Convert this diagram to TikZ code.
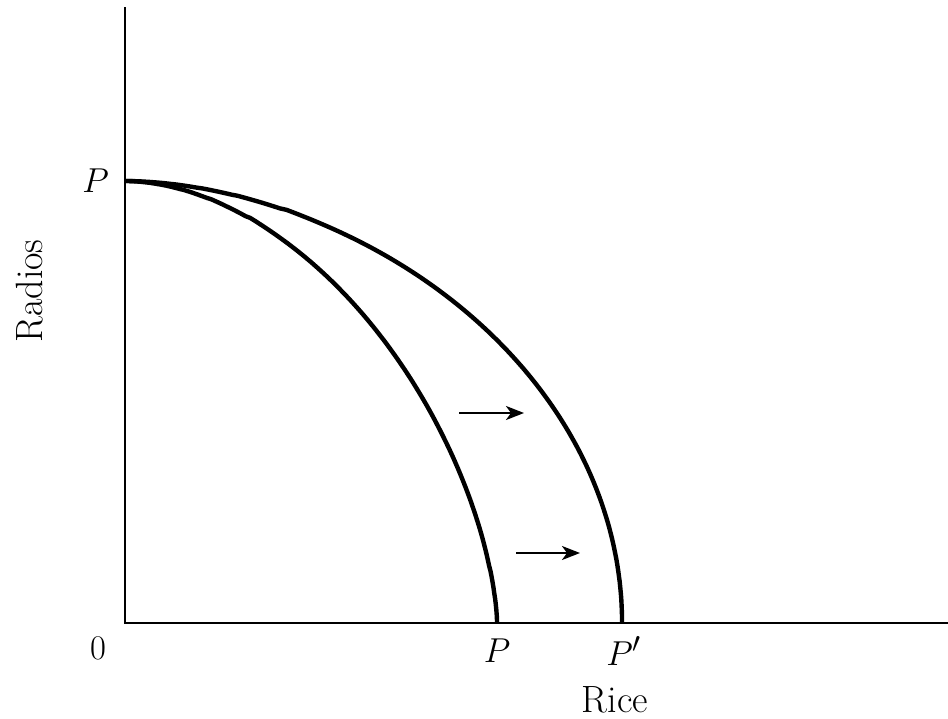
\documentclass[tikz,border=0pt]{standalone}
\usetikzlibrary{arrows.meta}
\begin{document}
\begin{tikzpicture}[x=0.5pt,y=-0.5pt,
    lbl/.style={font=\fontsize{19}{22}\selectfont},
    curva/.style={line width=2.2pt,line join=round},
    flecha/.style={line width=1.2pt,-{Stealth[length=9pt,width=7pt,inset=2.5pt]}}]
    \useasboundingbox (0,0) rectangle (948,718);

    % Ejes
    \coordinate (O) at (125,623);
    \coordinate (ytop) at (125,7);
    \coordinate (xend) at (948,623);
    \draw[line width=1.2pt] (ytop) -- (O) -- (xend);
    \node[lbl] (cero) at (98,648) {$0$};
    \node[lbl] (Rice) at (615,700) {Rice};
    \node[lbl,rotate=90] (Radios) at (30,291) {Radios};

    % Fronteras de posibilidades
    \coordinate (Py) at (125,181);
    \coordinate (Px) at (497,623);
    \coordinate (Pxp) at (622,623);
    \node[lbl,anchor=east] (lPy) at (116,181) {$P$};
    \node[lbl] (lPx) at (497,651) {$P$};
    \node[lbl] (lPxp) at (624,651) {$P'$};

    \draw[curva] (Py) -- plot[domain=0.01:0.999,samples=150]
      ({125+372*(1-(1-\x*\x)^1.6)^0.54},{181+442*\x*\x}) -- (Px);
    \draw[curva] (Py) -- plot[domain=0.01:0.999,samples=150]
      ({125+497*(1-(1-\x*\x)^2)^0.55},{181+442*\x*\x}) -- (Pxp);

    % Desplazamiento
    \coordinate (a1) at (459,413);
    \coordinate (b1) at (524,413);
    \coordinate (a2) at (516,553);
    \coordinate (b2) at (580,553);
    \draw[flecha] (a1) -- (b1);
    \draw[flecha] (a2) -- (b2);
  \end{tikzpicture}
\end{document}
